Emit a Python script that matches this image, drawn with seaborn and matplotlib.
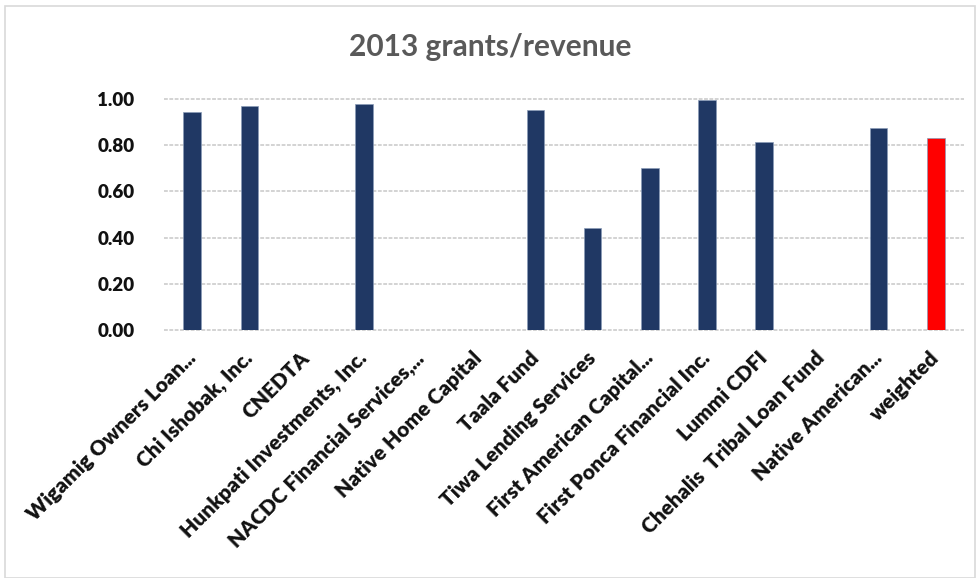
import matplotlib
matplotlib.use("Agg")
import matplotlib.pyplot as plt
import seaborn as sns
import pandas as pd
from matplotlib.patches import Rectangle

categories = [
    "Wigamig Owners Loan...", "Chi Ishobak, Inc.", "CNEDTA",
    "Hunkpati Investments, Inc.", "NACDC Financial Services,...",
    "Native Home Capital", "Taala Fund", "Tiwa Lending Services",
    "First American Capital...", "First Ponca Financial Inc.",
    "Lummi CDFI", "Chehalis  Tribal Loan Fund", "Native American...",
    "weighted",
]
values = [0.944, 0.970, 0.0, 0.978, 0.0, 0.0, 0.952, 0.443,
          0.701, 0.996, 0.814, 0.0, 0.874, 0.831]
bar_colors = ["#203864"] * 13 + ["#FF0000"]
yticks = [0.0, 0.2, 0.4, 0.6, 0.8, 1.0]
title = "2013 grants/revenue"

sns.set_theme(style="white")
plt.rcParams['font.family'] = ['Lato', 'DejaVu Sans']

df = pd.DataFrame({"cat": categories, "val": values})

fig = plt.figure(figsize=(9.8, 5.78), dpi=100)
ax = fig.add_axes([0.167, 0.429, 0.817, 0.400])

sns.barplot(data=df, x="cat", y="val", hue="cat", palette=bar_colors,
            legend=False, width=0.31, ax=ax, saturation=1,
            edgecolor="#8A9BB8", linewidth=0.5)

ax.set_ylim(0, 1.0)
ax.set_xlim(-0.5, len(categories) - 0.5)
ax.set_yticks(yticks)
ax.set_yticklabels([f"{t:.2f}" for t in yticks], fontsize=13.5, fontweight="heavy", color="#111111")
ax.set_xticks(range(len(categories)))
ax.set_xticklabels(categories, rotation=45, ha="right", va="center",
                   rotation_mode="anchor",
                   fontsize=15, fontweight="heavy", color="#111111")
ax.tick_params(axis="x", length=0, pad=18)
ax.tick_params(axis="y", length=0, pad=21)
ax.set_xlabel("")
ax.set_ylabel("")
for s in ax.spines.values():
    s.set_visible(False)
ax.yaxis.grid(True, color="#C8C8C8", linestyle=(0, (2.5, 1)), linewidth=1.1)
ax.set_axisbelow(True)
for line in ax.get_ygridlines():
    line.set_clip_on(False)

fig.text(0.5, 0.918, title, ha="center", va="center", fontsize=21.5,
         fontweight="bold", color="#595959")

fig.patches.append(Rectangle((0.005, 0.0), 0.99, 0.99, transform=fig.transFigure,
                             fill=False, edgecolor="#D9D9D9", linewidth=1.2))

fig.savefig("out.png", dpi=100)
